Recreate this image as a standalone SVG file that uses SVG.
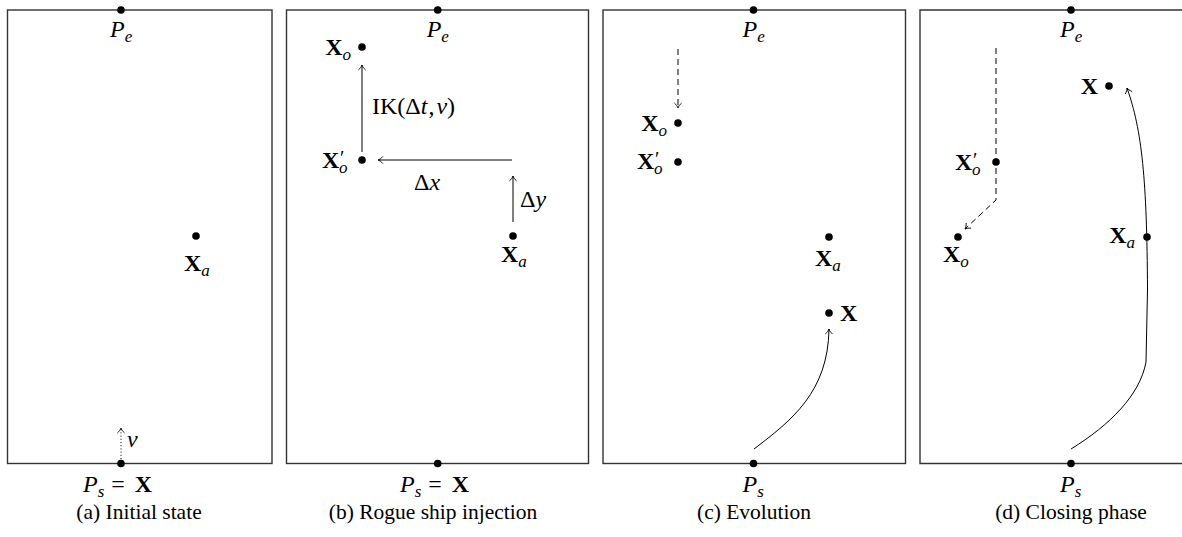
<svg xmlns="http://www.w3.org/2000/svg" width="1182" height="537" viewBox="0 0 1182 537">
<style>
.frame{fill:none;stroke:#333;stroke-width:1.4}
.dot{fill:#000}
.m{font-family:"Liberation Serif","Times New Roman",serif;font-size:24px;fill:#000}
.i{font-style:italic}
.b{font-weight:bold}
.s{font-size:17px;font-style:italic}
.pr{font-family:"Liberation Serif","Times New Roman",serif;font-size:20px;fill:#000}
.cap{font-family:"Liberation Serif","Times New Roman",serif;font-size:21.5px;fill:#000;text-anchor:middle}
.arr{fill:none;stroke:#000;stroke-width:1;marker-end:url(#ah)}
.dash{stroke-dasharray:6 4}
.dotted{stroke-dasharray:1 2.2}
</style>
<defs>
<marker id="ah" viewBox="-7 -5 9 10" refX="0" refY="0" markerWidth="9" markerHeight="10" orient="auto" markerUnits="userSpaceOnUse">
<path d="M-5,-3.6 C-3.4,-1.7 -1.3,-0.4 0,0 C-1.3,0.4 -3.4,1.7 -5,3.6" fill="none" stroke="#000" stroke-width="0.9"/>
</marker>
</defs>

<g id="panel-a">
<rect class="frame" x="7.5" y="10" width="264.5" height="453.5"/>
<circle class="dot" cx="121" cy="10" r="3.8"/>
<text class="m" x="110" y="37"><tspan class="i">P</tspan><tspan class="s" dy="5">e</tspan></text>
<circle class="dot" cx="196" cy="236" r="3.8"/>
<text class="m" x="184" y="271"><tspan class="b">X</tspan><tspan class="s" dy="5">a</tspan></text>
<circle class="dot" cx="121" cy="463.5" r="3.8"/>
<text class="m" x="83" y="492"><tspan class="i">P</tspan><tspan class="s" dy="5">s</tspan><tspan dy="-5" dx="7">=</tspan><tspan class="b" dx="10">X</tspan></text>
<text class="cap" x="139" y="519">(a) Initial state</text>
</g>

<g id="panel-b">
<rect class="frame" x="286.5" y="10" width="302" height="453.5"/>
<circle class="dot" cx="437.7" cy="10" r="3.8"/>
<text class="m" x="426.7" y="37"><tspan class="i">P</tspan><tspan class="s" dy="5">e</tspan></text>
<circle class="dot" cx="362" cy="47" r="3.8"/>
<text class="m" x="351" y="55" text-anchor="end"><tspan class="b">X</tspan><tspan class="s" dy="5">o</tspan></text>
<circle class="dot" cx="362" cy="160" r="3.8"/>
<text class="m"><tspan class="b" x="322" y="168">X</tspan><tspan class="s" x="339" y="173">o</tspan></text>
<text class="pr" x="340" y="165">′</text>
<text class="m" x="372" y="114">IK(Δ<tspan class="i">t</tspan><tspan dx="1">,</tspan><tspan class="i" dx="2">v</tspan>)</text>
<text class="m" x="427" y="190" text-anchor="middle">Δ<tspan class="i">x</tspan></text>
<text class="m" x="520" y="207">Δ<tspan class="i">y</tspan></text>
<circle class="dot" cx="513" cy="236" r="3.8"/>
<text class="m" x="501" y="262"><tspan class="b">X</tspan><tspan class="s" dy="5">a</tspan></text>
<circle class="dot" cx="437.7" cy="463.5" r="3.8"/>
<text class="m" x="400" y="492"><tspan class="i">P</tspan><tspan class="s" dy="5">s</tspan><tspan dy="-5" dx="7">=</tspan><tspan class="b" dx="10">X</tspan></text>
<text class="cap" x="433" y="519">(b) Rogue ship injection</text>
</g>

<g id="panel-c">
<rect class="frame" x="603" y="10" width="302.5" height="453.5"/>
<circle class="dot" cx="753.5" cy="10" r="3.8"/>
<text class="m" x="742.5" y="37"><tspan class="i">P</tspan><tspan class="s" dy="5">e</tspan></text>
<circle class="dot" cx="678" cy="123" r="3.8"/>
<text class="m" x="667" y="131" text-anchor="end"><tspan class="b">X</tspan><tspan class="s" dy="5">o</tspan></text>
<circle class="dot" cx="678" cy="162" r="3.8"/>
<text class="m"><tspan class="b" x="637" y="169">X</tspan><tspan class="s" x="654" y="174">o</tspan></text>
<text class="pr" x="655" y="166">′</text>
<circle class="dot" cx="829" cy="237" r="3.8"/>
<text class="m" x="815" y="266"><tspan class="b">X</tspan><tspan class="s" dy="5">a</tspan></text>
<circle class="dot" cx="829" cy="313" r="3.8"/>
<text class="m b" x="840" y="321">X</text>
<circle class="dot" cx="753.5" cy="463.5" r="3.8"/>
<text class="m" x="742.5" y="492"><tspan class="i">P</tspan><tspan class="s" dy="5">s</tspan></text>
<text class="cap" x="754" y="519">(c) Evolution</text>
</g>

<g id="panel-d">
<path class="frame" d="M1182,10 H920 V463.5 H1182"/>
<circle class="dot" cx="1071" cy="10" r="3.8"/>
<text class="m" x="1060" y="37"><tspan class="i">P</tspan><tspan class="s" dy="5">e</tspan></text>
<circle class="dot" cx="996" cy="162" r="3.8"/>
<text class="m"><tspan class="b" x="955" y="170">X</tspan><tspan class="s" x="972" y="175">o</tspan></text>
<text class="pr" x="973" y="167">′</text>
<circle class="dot" cx="958" cy="237" r="3.8"/>
<text class="m" x="943" y="262"><tspan class="b">X</tspan><tspan class="s" dy="5">o</tspan></text>
<circle class="dot" cx="1109" cy="86" r="3.8"/>
<text class="m b" x="1098" y="94" text-anchor="end">X</text>
<circle class="dot" cx="1147" cy="237" r="3.8"/>
<text class="m" x="1135" y="243" text-anchor="end"><tspan class="b">X</tspan><tspan class="s" dy="5">a</tspan></text>
<circle class="dot" cx="1071" cy="463.5" r="3.8"/>
<text class="m" x="1060" y="492"><tspan class="i">P</tspan><tspan class="s" dy="5">s</tspan></text>
<text class="cap" x="1071" y="519">(d) Closing phase</text>
</g>

<g id="connectors">
<line class="arr dotted" x1="121" y1="459" x2="121" y2="428"/>
<text class="m i" x="127" y="447">v</text>
<line class="arr" x1="362" y1="152" x2="362" y2="65"/>
<line class="arr" x1="512" y1="160" x2="378" y2="160"/>
<line class="arr" x1="513" y1="222" x2="513" y2="176"/>
<line class="arr dash" x1="678" y1="49" x2="678" y2="108"/>
<path class="arr" d="M754,449 C792,420 828,392 829,329"/>
<path class="arr dash" d="M996,48 V200 L965,229"/>
<path class="arr" d="M1071,449 C1110,425 1140,395 1146,362 L1147.5,290 C1147,180 1142,130 1127,88"/>
</g>
</svg>
